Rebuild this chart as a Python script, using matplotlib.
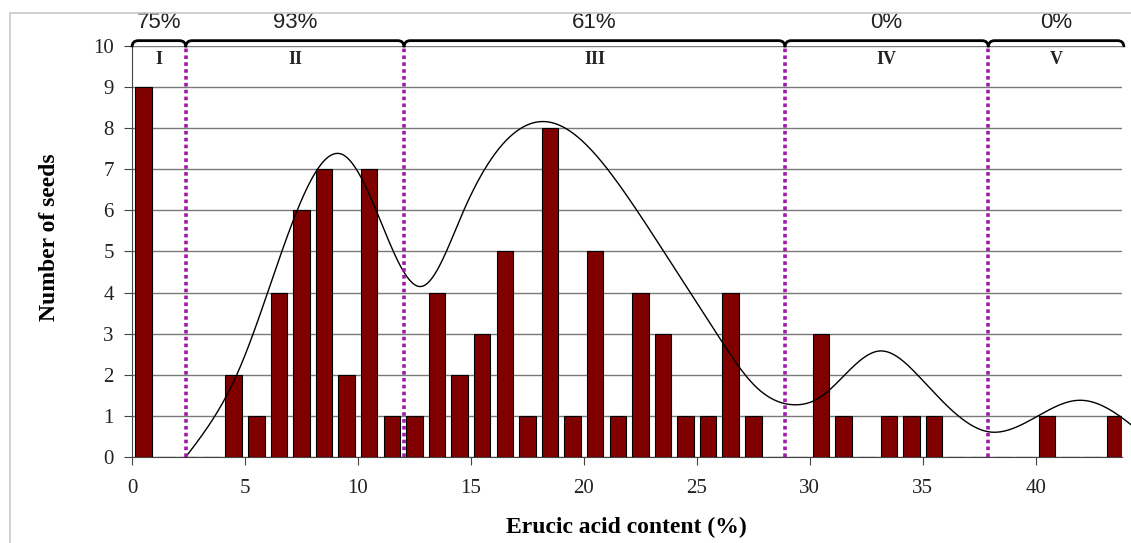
import matplotlib
matplotlib.use("Agg")
from matplotlib import pyplot as plt
from matplotlib.path import Path
from matplotlib.patches import PathPatch, Rectangle
import numpy as np

# seeds per 1% erucic acid class (bins 0..43)
seed_counts = [9, 0, 0, 0, 2, 1, 4, 6, 7, 2,
               7, 1, 1, 4, 2, 3, 5, 1, 8, 1,
               5, 1, 4, 3, 1, 1, 4, 1, 0, 0,
               3, 1, 0, 1, 1, 1, 0, 0, 0, 0,
               1, 0, 0, 1]

# knots of the smoothed distribution curve
curve_x = [2.38, 4.78, 7.29, 9.35, 10.83, 12.82, 14.66, 18.45, 22.0, 24.2,
           26.0, 27.5, 29.3, 30.45, 33.1, 35.0, 37.95, 40.1, 41.9, 43.7, 44.3]
curve_y = [0.0, 2.18, 5.97, 7.35, 5.97, 4.15, 5.97, 8.15, 6.28, 4.43,
           2.9, 1.77, 1.27, 1.45, 2.58, 1.86, 0.61, 1.0, 1.38, 1.0, 0.75]

# class boundaries (dotted lines) and groups
boundaries = [0, 2.38, 12.04, 28.9, 37.9, 43.9]
group_names = ["I", "II", "III", "IV", "V"]
group_pct = ["75%", "93%", "61%", "0%", "0%"]


def natural_spline(x, y, xs):
    # smooth line through the knots (like Excel's smoothed line)
    x = np.asarray(x, float)
    y = np.asarray(y, float)
    n = len(x)
    h = np.diff(x)
    A = np.zeros((n, n))
    r = np.zeros(n)
    A[0, 0] = A[-1, -1] = 1
    for i in range(1, n - 1):
        A[i, i - 1] = h[i - 1]
        A[i, i] = 2 * (h[i - 1] + h[i])
        A[i, i + 1] = h[i]
        r[i] = 6 * ((y[i + 1] - y[i]) / h[i] - (y[i] - y[i - 1]) / h[i - 1])
    M = np.linalg.solve(A, r)
    idx = np.clip(np.searchsorted(x, xs) - 1, 0, n - 2)
    a = x[idx + 1] - xs
    b = xs - x[idx]
    hi = h[idx]
    return (M[idx] * a**3 / (6 * hi) + M[idx + 1] * b**3 / (6 * hi)
            + (y[idx] / hi - M[idx] * hi / 6) * a
            + (y[idx + 1] / hi - M[idx + 1] * hi / 6) * b)


serif = "Liberation Serif"

fig = plt.figure(figsize=(11.31, 5.43), dpi=100)
ax = fig.add_axes([0.1167, 0.1584, 0.875, 0.7569])

bins = np.arange(len(seed_counts)) + 0.5
ax.bar(bins, seed_counts, width=0.73, color="#800000", edgecolor="black",
       linewidth=0.8, zorder=3)

xs = np.linspace(curve_x[0], curve_x[-1], 800)
ax.plot(xs, natural_spline(curve_x, curve_y, xs), color="black", lw=1.0,
        zorder=4, clip_on=False)

for b in boundaries[1:-1]:
    ax.plot([b, b], [0, 10], color="#a01aa8", lw=2.6, ls=(0, (1, 0.9)),
            zorder=5, clip_on=False)

# curly brackets over each group
top, drop = 10.13, 0.16
dx = 0.28
for i in range(len(group_names)):
    x0, x1 = boundaries[i], boundaries[i + 1]
    verts = [(x0, top - drop), (x0, top), (x0 + dx, top),
             (x1 - dx, top), (x1, top), (x1, top - drop)]
    codes = [Path.MOVETO, Path.CURVE3, Path.CURVE3,
             Path.LINETO, Path.CURVE3, Path.CURVE3]
    ax.add_patch(PathPatch(Path(verts, codes), fill=False, lw=2.0,
                           edgecolor="black", clip_on=False, zorder=6))
    xc = (x0 + x1) / 2
    ax.text(xc, 10.58, group_pct[i], ha="center", va="center",
            fontsize=16, family="Liberation Sans", color="#222222")
    ax.text(xc, 9.66, group_names[i], ha="center", va="center",
            fontsize=13, family=serif, fontweight="bold", color="#222222")

ax.set_xlim(0, 43.8)
ax.set_ylim(0, 10)
ax.set_xticks(range(0, 41, 5))
ax.set_yticks(range(0, 11))
ax.grid(axis="y", color="#7a7a7a", lw=1.0, zorder=0)
for s in ["top", "right"]:
    ax.spines[s].set_visible(False)
for s in ["left", "bottom"]:
    ax.spines[s].set_color("#444444")
ax.tick_params(axis="both", direction="out", length=6, color="#444444",
               labelcolor="#222222")
ax.tick_params(axis="x", pad=10)
ax.tick_params(axis="y", pad=7)
for lab in ax.get_xticklabels() + ax.get_yticklabels():
    lab.set_family(serif)
    lab.set_fontsize(15)

ax.set_xlabel("Erucic acid content (%)", family=serif, fontweight="bold",
              fontsize=17, va="center")
ax.xaxis.set_label_coords(0.5, -0.172)
ax.set_ylabel("Number of seeds", family=serif, fontweight="bold",
              fontsize=17, va="center")
ax.yaxis.set_label_coords(-0.083, 0.535)

fig.add_artist(Rectangle((10 / 1131, -0.05), 1.2, 1 - 13 / 543 + 0.05,
                         transform=fig.transFigure, fill=False,
                         edgecolor="#c8c8c8", lw=1.2))

fig.savefig("out.png", dpi=100)
